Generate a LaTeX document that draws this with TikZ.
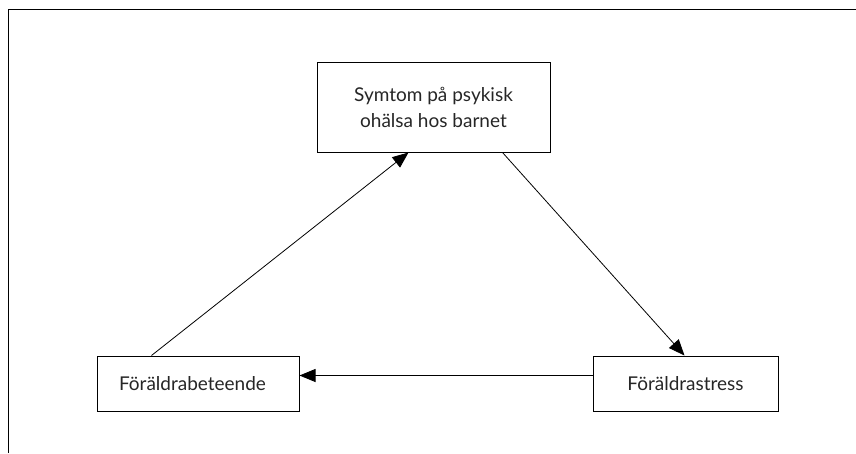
\documentclass[tikz,border=0pt]{standalone}
\usepackage{fontspec}
\setmainfont{Lato}
\usetikzlibrary{arrows.meta}
\begin{document}
\begin{tikzpicture}[x=1pt,y=-1pt,
  boxnode/.style={draw=black,line width=1pt,inner sep=0pt,font=\fontsize{19}{26}\selectfont,text=black!85},
  conn/.style={line width=0.8pt,-{Triangle[length=16pt,width=13pt]}}]
\useasboundingbox (0,0) rectangle (856,453);
\draw[line width=1.3pt] (8.5,453) -- (8.5,9.5) -- (856,9.5);
\node[boxnode,minimum width=233pt,minimum height=90pt,align=center] (sym) at (433.5,107) {Symtom på psykisk\\ohälsa hos barnet};
\node[boxnode,minimum width=202pt,minimum height=55pt] (beh) at (198,383.5) {Föräldrabeteende\hspace*{11pt}};
\node[boxnode,minimum width=185pt,minimum height=55pt] (str) at (685.5,383.5) {Föräldrastress};
\coordinate (b1) at ([xshift=55pt]beh.north west);
\coordinate (s1) at ([xshift=92pt]sym.south west);
\coordinate (s2) at ([xshift=186pt]sym.south west);
\coordinate (r1) at ([xshift=92pt]str.north west);
\draw[conn] (b1) -- (s1);
\draw[conn] (s2) -- (r1);
\draw[conn] ([yshift=8pt]str.west) -- ([yshift=8pt]beh.east);
\end{tikzpicture}
\end{document}
